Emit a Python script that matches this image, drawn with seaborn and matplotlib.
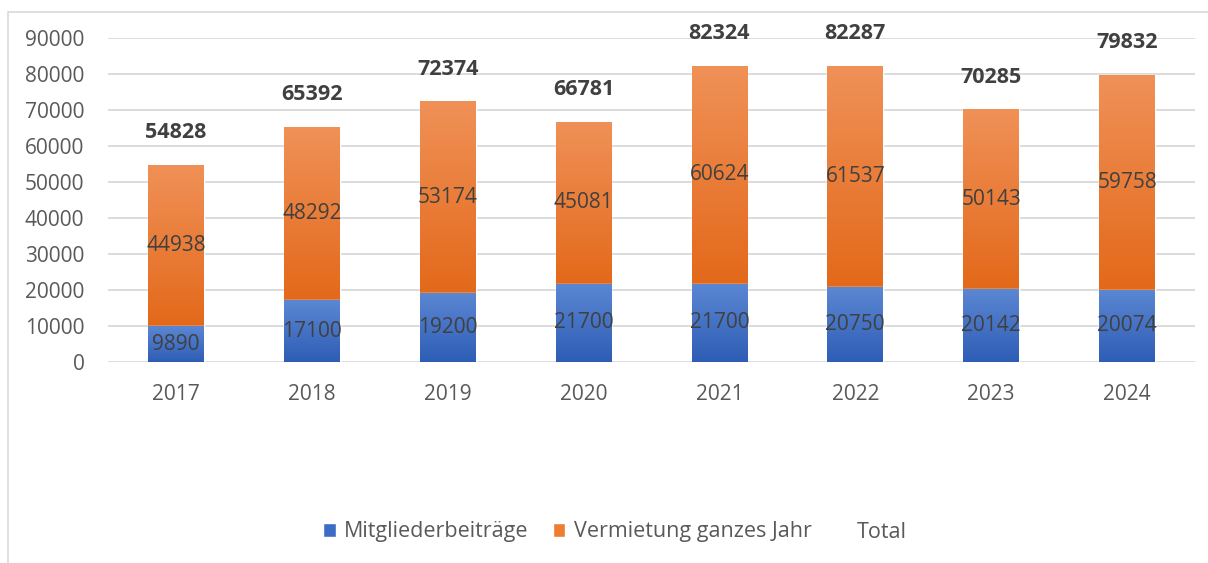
import numpy as np
import pandas as pd
import matplotlib
matplotlib.use("Agg")
from matplotlib import pyplot as plt
from matplotlib.colors import LinearSegmentedColormap
from matplotlib.patches import Patch, Rectangle
from matplotlib.lines import Line2D
import seaborn as sns

years = ["2017", "2018", "2019", "2020", "2021", "2022", "2023", "2024"]
mitglieder = [9890, 17100, 19200, 21700, 21700, 20750, 20142, 20074]
vermietung = [44938, 48292, 53174, 45081, 60624, 61537, 50143, 59758]
total = [54828, 65392, 72374, 66781, 82324, 82287, 70285, 79832]

df = pd.DataFrame({"Jahr": years, "Mitglieder": mitglieder,
                   "Vermietung": vermietung, "Total": total})

sns.set_theme(style="white")
plt.rcParams["font.family"] = ["Open Sans", "DejaVu Sans"]

fig = plt.figure(figsize=(12.08, 5.63), dpi=100)
ax = fig.add_axes([108 / 1208, 1 - 362 / 563, (1195 - 108) / 1208, (362 - 38) / 563])

blue_top, blue_bot = "#5B87D2", "#2E5DB6"
orange_top, orange_bot = "#F09158", "#E3691A"

sns.barplot(data=df, x="Jahr", y="Total", color=orange_bot, width=0.41,
            saturation=1, ax=ax, zorder=2)
n_total = len(ax.patches)
sns.barplot(data=df, x="Jahr", y="Mitglieder", color=blue_bot, width=0.41,
            saturation=1, ax=ax, zorder=3)

# gradient fill per segment
cmap_o = LinearSegmentedColormap.from_list("o", [orange_bot, orange_top])
cmap_b = LinearSegmentedColormap.from_list("b", [blue_bot, blue_top])
grad = np.linspace(0, 1, 256).reshape(-1, 1)
for i, p in enumerate(ax.patches[:n_total]):
    x0, w = p.get_x(), p.get_width()
    im = ax.imshow(grad, cmap=cmap_o, origin="lower", aspect="auto",
                   extent=(x0, x0 + w, mitglieder[i], total[i]), zorder=2.5)
    im.set_clip_path(p)
for i, p in enumerate(ax.patches[n_total:]):
    x0, w = p.get_x(), p.get_width()
    im = ax.imshow(grad, cmap=cmap_b, origin="lower", aspect="auto",
                   extent=(x0, x0 + w, 0, mitglieder[i]), zorder=3.5)
    im.set_clip_path(p)
ax.set_xlim(-0.5, len(years) - 0.5)
ax.set_ylim(0, 90000)

lab_col = "#404040"
for i in range(len(years)):
    ax.text(i, mitglieder[i] / 2, str(mitglieder[i]), ha="center", va="center",
            fontsize=15, color=lab_col, zorder=5)
    ax.text(i, mitglieder[i] + vermietung[i] / 2, str(vermietung[i]),
            ha="center", va="center", fontsize=15, color=lab_col, zorder=5)
    ax.annotate(str(total[i]), (i, total[i]), xytext=(0, 23),
                textcoords="offset points", ha="center", va="center",
                fontsize=15.5, fontweight="bold", color=lab_col, zorder=5)

ax.set_yticks(np.arange(0, 90001, 10000))
ax.yaxis.grid(True, color="#D9D9D9", linewidth=1.3, zorder=0)
ax.set_axisbelow(True)
for s in ax.spines.values():
    s.set_visible(False)
ax.tick_params(axis="both", length=0, labelsize=15, colors="#595959")
ax.tick_params(axis="y", pad=17)
ax.tick_params(axis="x", pad=16)
ax.set_xlabel("")
ax.set_ylabel("")

handles = [Patch(facecolor="#3D6CC4", label="Mitgliederbeiträge"),
           Patch(facecolor="#EE7D33", label="Vermietung ganzes Jahr"),
           Line2D([], [], color="none", label="Total")]
fig.legend(handles=handles, loc="center", bbox_to_anchor=(615 / 1208, 1 - 532 / 563),
           ncol=3, frameon=False, fontsize=15.5, handlelength=0.6, handleheight=0.6,
           handletextpad=0.4, columnspacing=1.1, labelcolor="#595959")

fig.patches.append(Rectangle((8 / 1208, -0.05), 1.2, (563 - 12) / 563 + 0.05,
                             transform=fig.transFigure, fill=False,
                             edgecolor="#D9D9D9", linewidth=1.2))

fig.savefig("out.png", dpi=100)
